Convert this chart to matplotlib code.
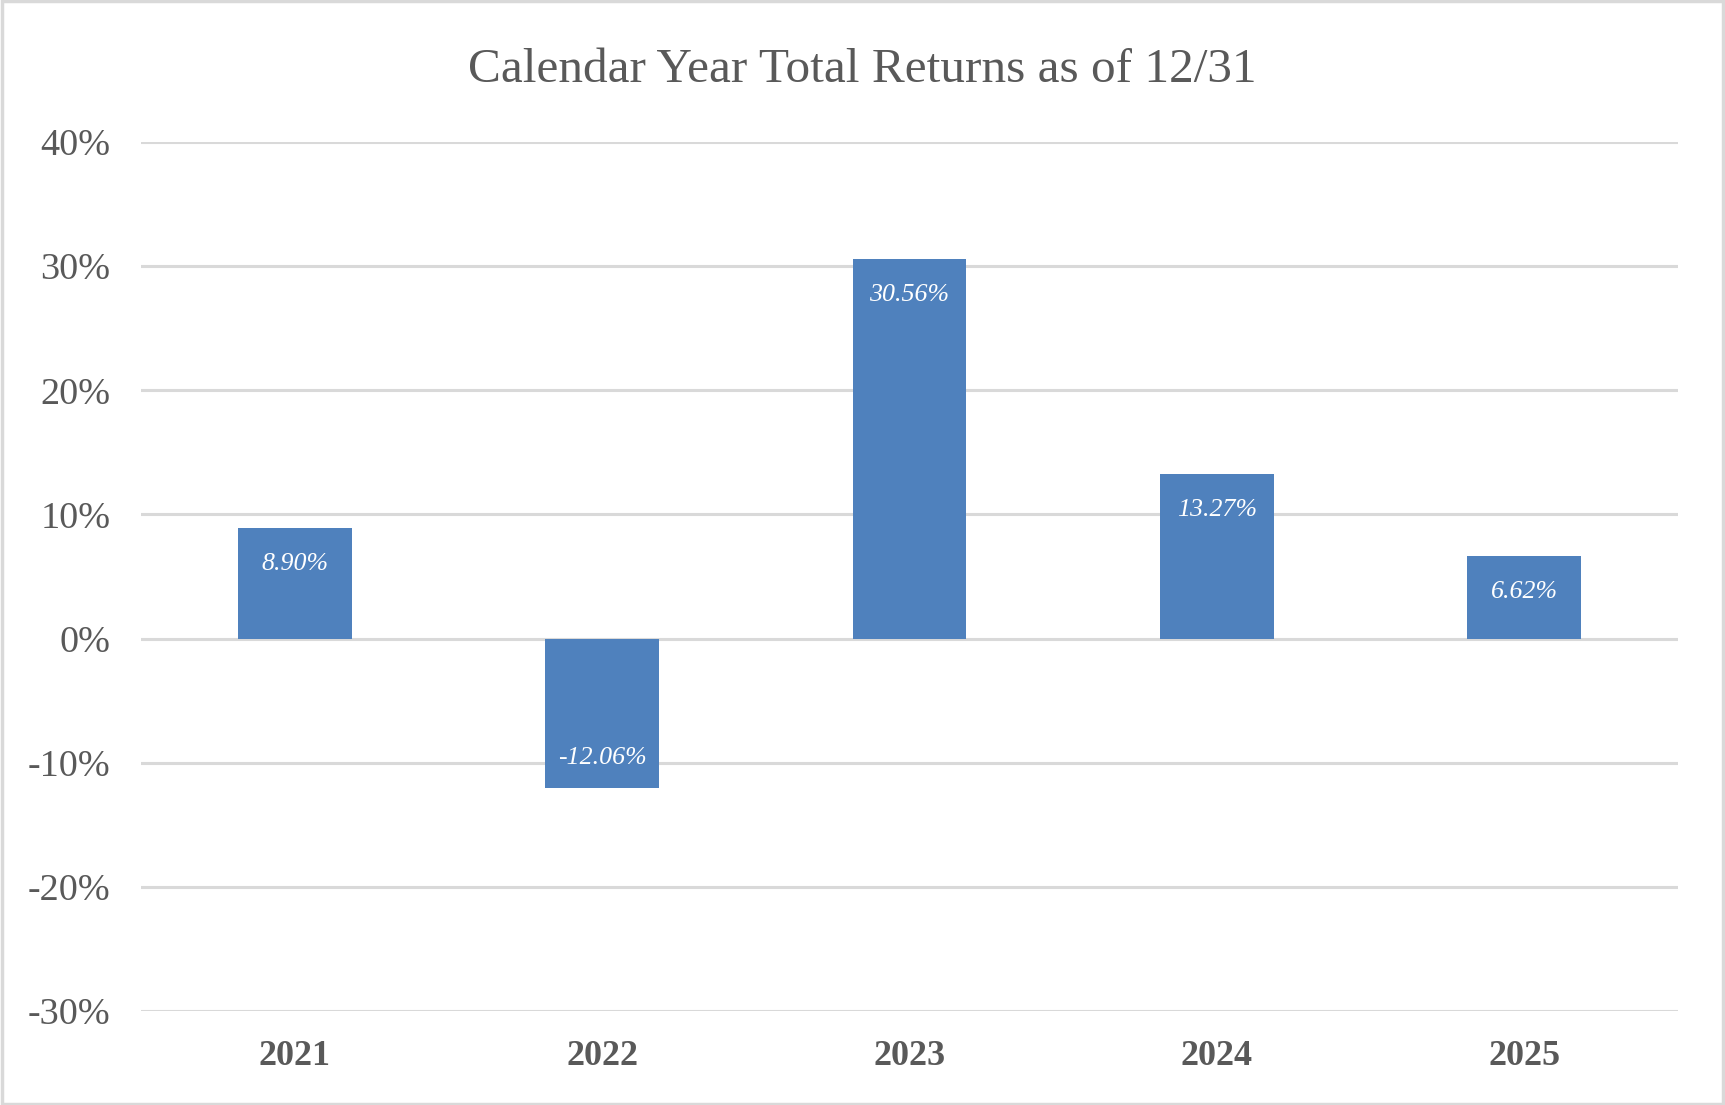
import matplotlib.pyplot as plt
from matplotlib.patches import Rectangle

# calendar year returns (%)
years = ['2021', '2022', '2023', '2024', '2025']
returns = [8.90, -12.06, 30.56, 13.27, 6.62]
yticks = [-30, -20, -10, 0, 10, 20, 30, 40]

bar_color = '#4F81BD'
text_color = '#595959'
grid_color = '#D9D9D9'

plt.rcParams['font.family'] = ['Liberation Serif', 'DejaVu Serif']

fig = plt.figure(figsize=(17.25, 11.05), dpi=100)
ax = fig.add_axes([0.0817, 0.0851, 0.8911, 0.7864])

x = range(len(years))
ax.bar(x, returns, width=0.37, color=bar_color, zorder=3)

ax.set_xlim(-0.5, len(years) - 0.5)
ax.set_ylim(-30, 40)
ax.set_yticks(yticks)
ax.set_yticklabels([f'{t}%' for t in yticks])
ax.set_xticks(list(x))
ax.set_xticklabels(years, fontweight='bold')

ax.tick_params(axis='y', length=0, pad=22, labelsize=27.5, labelcolor=text_color)
ax.tick_params(axis='x', length=0, pad=21, labelsize=26, labelcolor=text_color)
ax.grid(axis='y', color=grid_color, linewidth=2.2, zorder=0)
for s in ax.spines.values():
    s.set_visible(False)

# value labels inside bar ends
for i, v in enumerate(returns):
    off = -26 if v > 0 else 22
    ax.annotate(f'{v:.2f}%', (i, v), xytext=(0, off), textcoords='offset points',
                ha='center', va='center', color='white', fontsize=18.6,
                fontstyle='italic', zorder=4)

fig.text(0.5, 0.937, 'Calendar Year Total Returns as of 12/31', ha='center', va='center',
         fontsize=35.5, color=text_color)

# outer border
fig.patches.append(Rectangle((0.001, 0.001), 0.998, 0.998, transform=fig.transFigure,
                             fill=False, edgecolor=grid_color, linewidth=2.5))

fig.savefig('out.png', dpi=100, facecolor='white')
